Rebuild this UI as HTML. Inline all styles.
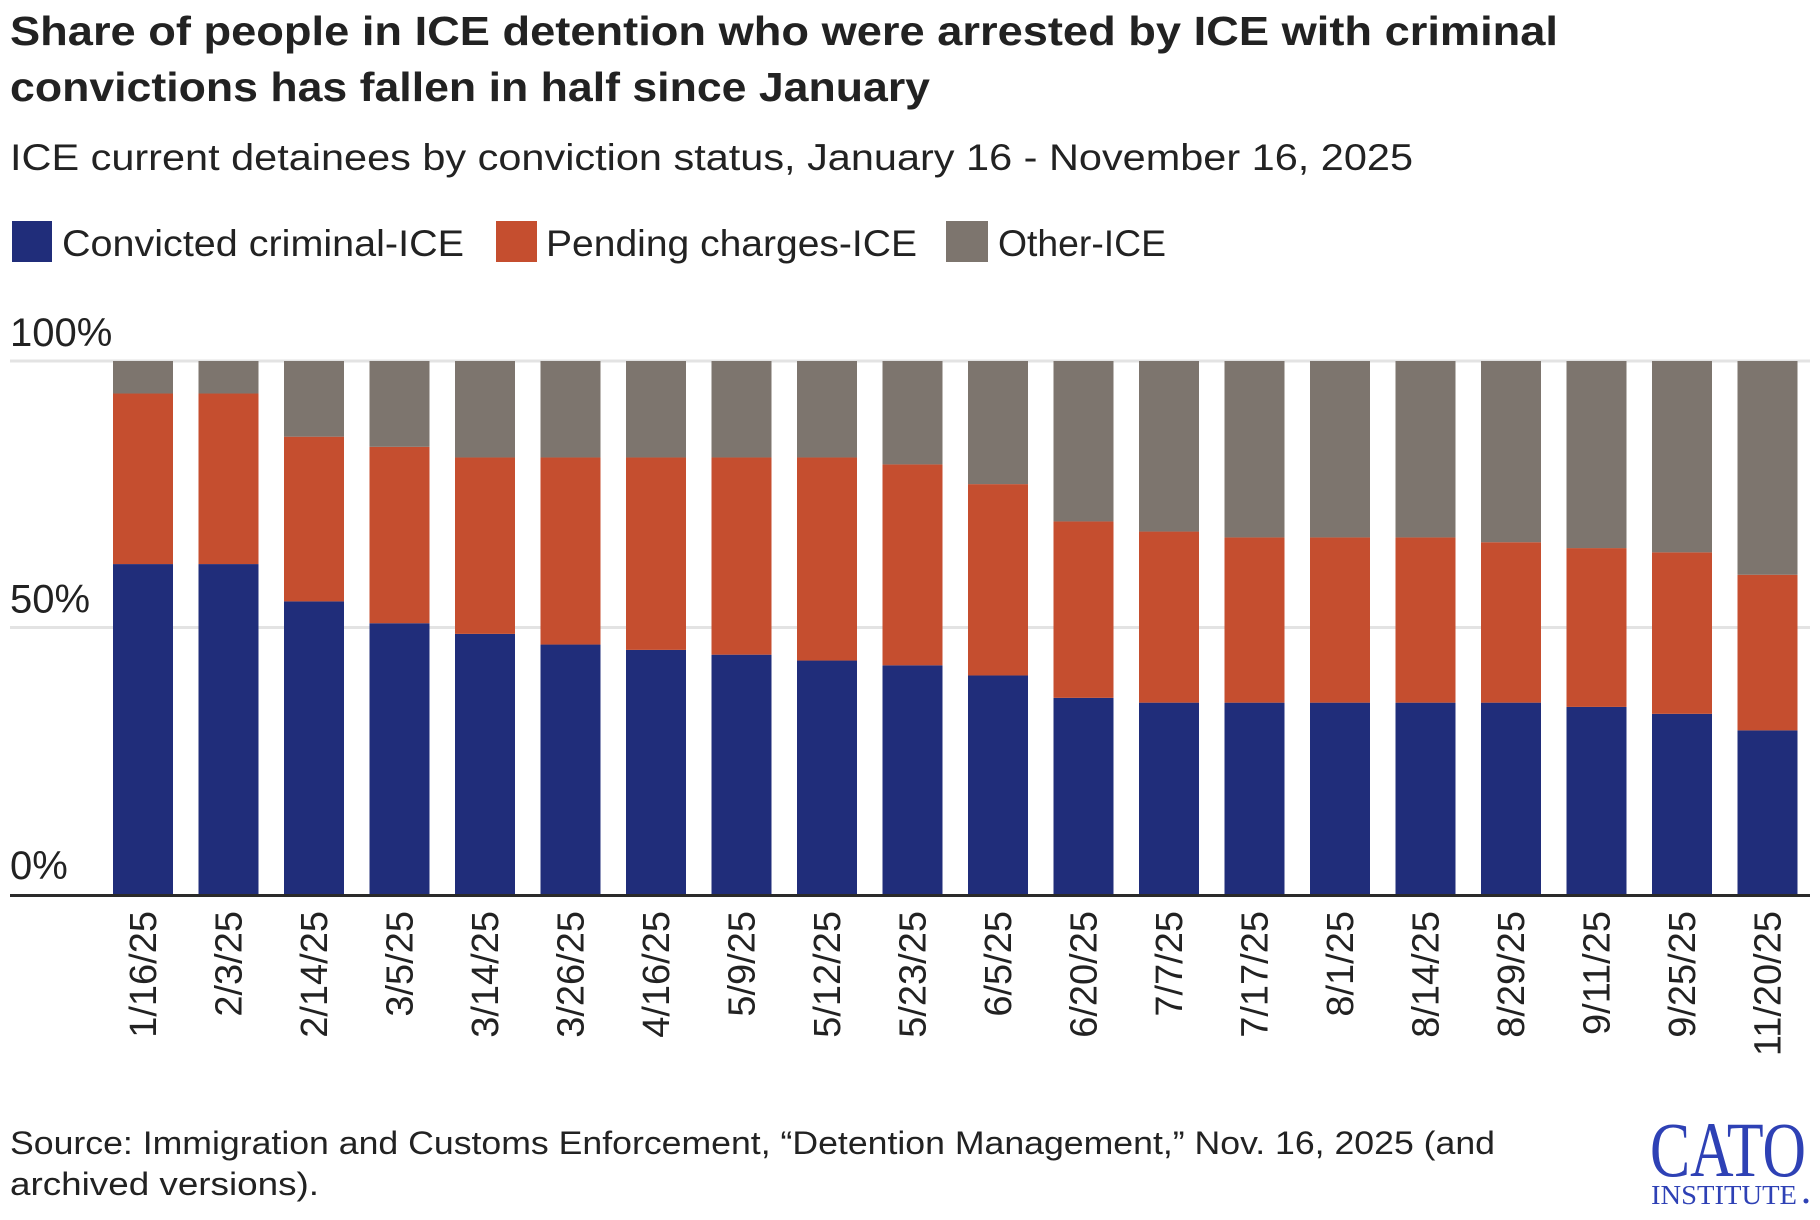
<!DOCTYPE html>
<html><head><meta charset="utf-8"><style>
html,body{margin:0;padding:0;background:#fff}
svg{display:block}
text{font-family:"Liberation Sans",sans-serif;fill:#222}
</style></head><body>
<svg id="chart" width="1820" height="1220" viewBox="0 0 1820 1220">
<text x="10" y="45" font-size="41" font-weight="bold" textLength="1548" lengthAdjust="spacingAndGlyphs">Share of people in ICE detention who were arrested by ICE with criminal</text>
<text x="10" y="101" font-size="41" font-weight="bold" textLength="920" lengthAdjust="spacingAndGlyphs">convictions has fallen in half since January</text>
<text x="10" y="170" font-size="37" textLength="1403" lengthAdjust="spacingAndGlyphs">ICE current detainees by conviction status, January 16 - November 16, 2025</text>
<g>
<rect x="12" y="221" width="40" height="41" fill="#202d7a"/>
<text x="62" y="256" font-size="37" textLength="402" lengthAdjust="spacingAndGlyphs">Convicted criminal-ICE</text>
<rect x="496" y="221" width="41" height="41" fill="#c54e2f"/>
<text x="546" y="256" font-size="37" textLength="371" lengthAdjust="spacingAndGlyphs">Pending charges-ICE</text>
<rect x="946" y="221" width="42" height="41" fill="#7d756e"/>
<text x="998" y="256" font-size="37" textLength="168" lengthAdjust="spacingAndGlyphs">Other-ICE</text>
</g>
<g id="grid"></g>
<g id="bars"></g>
<g id="xlabels"></g>
<text x="10" y="1154" font-size="32" textLength="1485" lengthAdjust="spacingAndGlyphs">Source: Immigration and Customs Enforcement, “Detention Management,” Nov. 16, 2025 (and</text>
<text x="10" y="1195" font-size="32" textLength="309" lengthAdjust="spacingAndGlyphs">archived versions).</text>
<g>
<text x="1728" y="1176" font-size="78" text-anchor="middle" textLength="156" lengthAdjust="spacingAndGlyphs" style="font-family:'Liberation Serif',serif;fill:#2e41b5">CATO</text>
<text x="1724" y="1204" font-size="27" text-anchor="middle" textLength="146" lengthAdjust="spacingAndGlyphs" style="font-family:'Liberation Serif',serif;fill:#2e41b5">INSTITUTE</text>
<circle cx="1806" cy="1201" r="2.5" fill="#2e41b5"/>
</g>
</svg>
<script>
const categories=["1/16/25","2/3/25","2/14/25","3/5/25","3/14/25","3/26/25","4/16/25","5/9/25","5/12/25","5/23/25","6/5/25","6/20/25","7/7/25","7/17/25","8/1/25","8/14/25","8/29/25","9/11/25","9/25/25","11/20/25"];
const convicted=[61.9,61.9,54.9,50.8,48.8,46.8,45.8,44.9,43.8,42.9,41.0,36.8,35.9,35.9,35.9,35.9,35.9,35.1,33.8,30.7];
const pending=[32.0,32.0,30.9,33.1,33.1,35.1,36.1,37.0,38.1,37.7,35.9,33.1,32.1,31.0,31.0,31.0,30.1,29.8,30.3,29.2];
const other=[6.1,6.1,14.2,16.1,18.1,18.1,18.1,18.1,18.1,19.4,23.1,30.1,32.0,33.1,33.1,33.1,34.0,35.1,35.9,40.1];
const yTicks=[0,50,100];
const yTickLabels=["0%","50%","100%"];
const NS="http://www.w3.org/2000/svg";
const y0=894,yTop=361,x0=143,step=85.5,bw=60;
const y=v=>y0-(y0-yTop)*v/100;
const x=i=>x0+step*i;
const grid=document.getElementById('grid'),bars=document.getElementById('bars'),xl=document.getElementById('xlabels');
function mk(tag,attrs,parent){const e=document.createElementNS(NS,tag);for(const k in attrs)e.setAttribute(k,attrs[k]);parent.appendChild(e);return e;}
yTicks.forEach((t,i)=>{
  if(t>0){const l=mk('line',{x1:10,x2:1810,y1:y(t),y2:y(t),stroke:'#e3e3e3','stroke-width':3},grid);
  
  }
  const tx=mk('text',{x:10,y:y(t)-15,'font-size':40},grid);
  tx.textContent=yTickLabels[i];
  
  
});
const axis=mk('line',{x1:10,x2:1810,y1:y0+1.5,y2:y0+1.5,stroke:'#2a2a2a','stroke-width':3},grid);


const series=[[convicted,'#202d7a','convicted'],[pending,'#c54e2f','pending'],[other,'#7d756e','other']];
categories.forEach((c,i)=>{
  let base=0;
  series.forEach(([arr,col,nm])=>{
    const v=arr[i];
    const r=mk('rect',{x:x(i)-bw/2,y:y(base+v),width:bw,height:y(base)-y(base+v),fill:col},bars);
    
    
    base+=v;
  });
  const t=mk('text',{x:0,y:0,'font-size':38,'text-anchor':'end',transform:`translate(${x(i)+13},911) rotate(-90)`},xl);
  t.textContent=c;
  
  
});
</script>
</body></html>
